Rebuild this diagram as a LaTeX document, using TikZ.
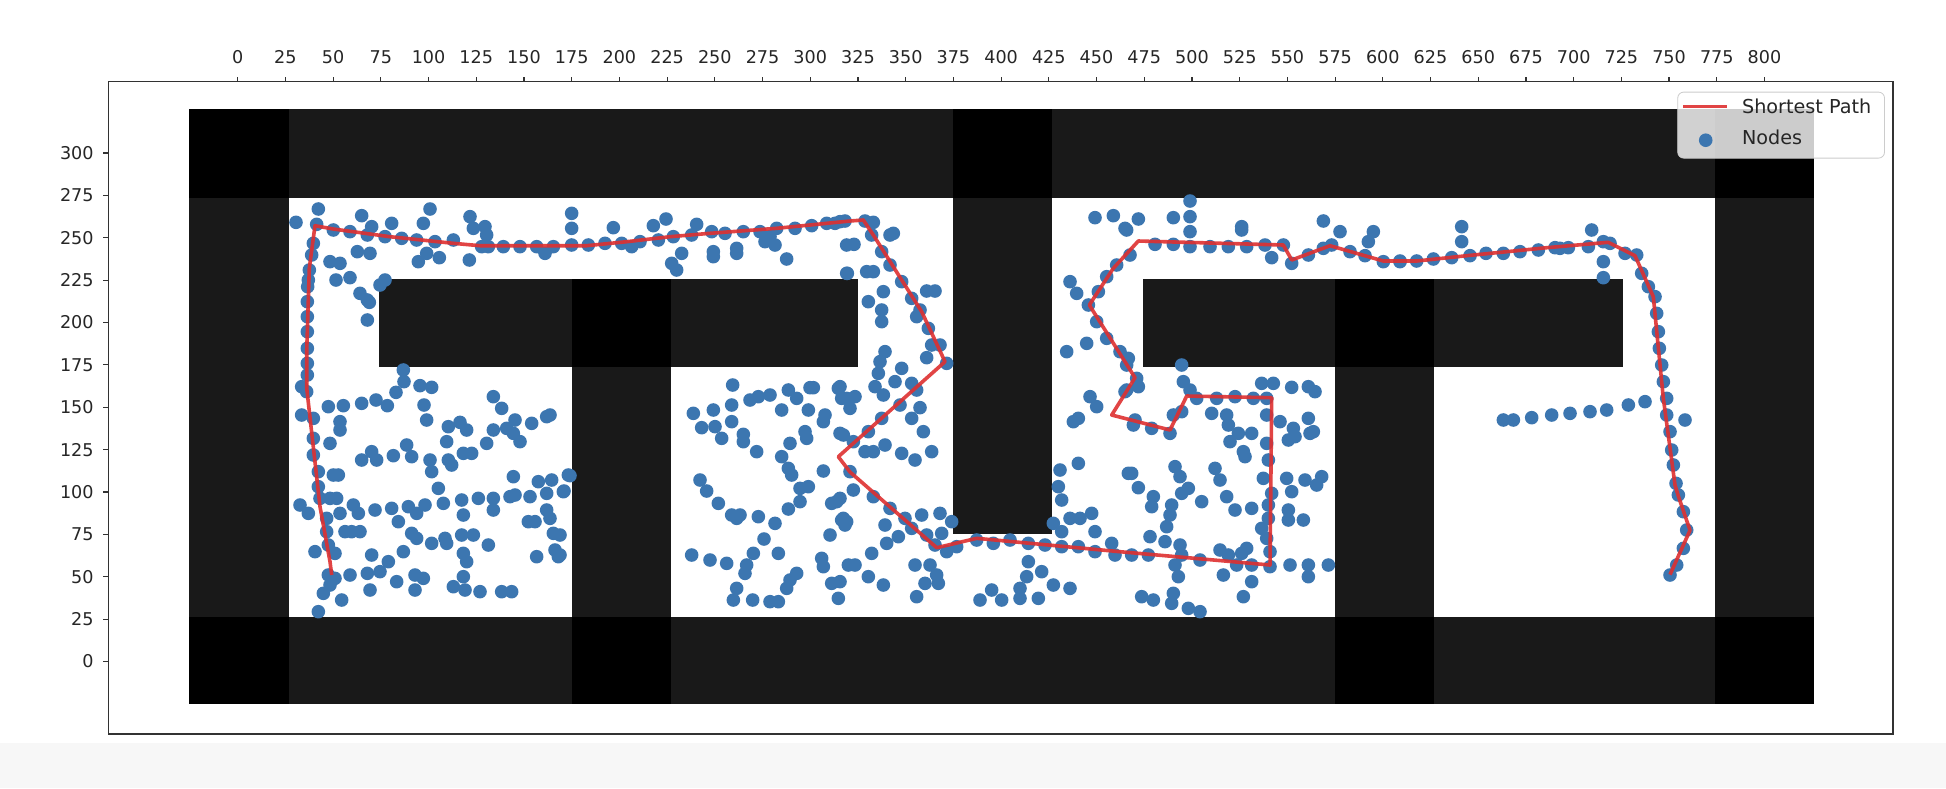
\documentclass[tikz,border=0pt]{standalone}
\usepackage{fontspec}
\setmainfont{DejaVu Sans}
\definecolor{wallg}{RGB}{25,25,25}
\definecolor{nodeb}{RGB}{60,118,176}
\definecolor{pathr}{RGB}{222,48,48}
\definecolor{framec}{RGB}{50,50,50}
\definecolor{labc}{RGB}{38,38,38}
\begin{document}
\begin{tikzpicture}[x=0.5pt,y=-0.5pt,
  wallc/.style={fill=wallg},
  blk/.style={fill=black},
  free/.style={fill=white},
  nd/.style={fill=nodeb},
  ticklab/.style={font=\fontsize{8.8}{10}\selectfont,text=labc,inner sep=0pt},
  leglab/.style={font=\fontsize{9.6}{11}\selectfont,text=labc,inner sep=0pt,anchor=west},
  zoomA/.style={x=0.166667pt,y=-0.166667pt}]
\useasboundingbox (0,0) rectangle (1946,788);
\fill[white] (0,0) rectangle (1946,788);
\fill[black!3] (0,743) rectangle (1946,788);
% ---------- map ----------
\fill[wallc] (189.3,109.3) rectangle (1814.3,704.3);
\fill[free] (288.7,198.3) rectangle (1715,616.7);
\fill[wallc] (379,279.3) rectangle (858.3,366.7);
\fill[wallc] (571.7,366.7) rectangle (670.7,616.7);
\fill[wallc] (953.3,198.3) rectangle (1052.3,534.3);
\fill[wallc] (1142.7,279.3) rectangle (1622.7,366.7);
\fill[wallc] (1335,366.7) rectangle (1434.3,616.7);
\fill[blk] (571.7,279.3) rectangle (670.7,366.7);
\fill[blk] (1335,279.3) rectangle (1434.3,366.7);
\fill[blk] (189.3,109.3) rectangle (288.7,198.3);
\fill[blk] (953.3,109.3) rectangle (1052.3,198.3);
\fill[blk] (1715,109.3) rectangle (1814.3,198.3);
\fill[blk] (189.3,616.7) rectangle (288.7,704.3);
\fill[blk] (571.7,616.7) rectangle (670.7,704.3);
\fill[blk] (1335,616.7) rectangle (1434.3,704.3);
\fill[blk] (1715,616.7) rectangle (1814.3,704.3);
% ---------- nodes ----------
\begin{scope}[shift={(280,185)},zoomA]
\foreach \a/\b in {48/112,115/72,110/118,160/135,210/140,245/92,275/125,262/150,335/115,315/155,365/160,410/165,430/115,450/72,465/170,520/165,570/95,580/130,615/125,620/150,605/185,625/185,670/185,720/185,770/185,795/205,820/185,232/200,270/205,150/230,180/235,168/285,210/278,300/300,315/285,240/325,262/345,268/352,262/405,415/230,440/205,478/218,568/225,
100/175,95/210,88/255,85/285,83/305,82/350,82/395,82/440,82/490,82/535,82/570,65/605,80/620,65/690,100/700,100/760,100/810,115/860,115/905,120/940,140/1000,140/1040,145/1080,165/1105,145/1170,165/1180,150/1200,130/1225,185/1245,115/1280,60/960,85/985,105/1100,
370/555,372/590,348/622,420/602,455/607,432/660,440/705,640/635,665/670,145/665,190/662,245/655,288/645,322/662,180/710,180/735,150/775,505/725,540/712,560/735,500/770,640/735,680/730,705/705,700/745,720/770,755/715,800/695,810/690,620/775,245/825,275/800,290/825,340/812,380/780,395/815,450/825,455/860,475/910,505/825,515/840,550/805,575/805,160/870,175/870,150/940,170/940,180/985,220/960,235/985,285/975,335/970,355/1010,385/965,410/985,435/960,490/955,545/945,550/990,595/940,640/940,640/975,690/935,700/875,705/930,750/935,775/890,815/885,800/925,850/920,865/870,800/975,810/1000,745/1010,765/1010,820/1045,195/1040,215/1040,240/1040,395/1045,410/1060,455/1075,495/1060,500/1075,545/1050,580/1050,625/1080,550/1105,560/1130,770/1115,825/1095,835/1115,275/1110,370/1100,210/1170,262/1165,300/1160,325/1130,350/1190,405/1170,430/1180,405/1215,550/1175,520/1205,555/1215,600/1220,665/1220,695/1220,270/1215}
  \fill[nd] (\a,\b) circle (3.4pt);
\end{scope}
\begin{scope}[shift={(560,185)},zoomA]
\foreach \a/\b in {35/85,35/130,35/180,85/180,135/175,160/128,185/175,215/185,240/170,280/122,318/102,295/165,340/155,365/205,335/235,350/255,395/150,410/118,455/140,460/200,460/215,495/145,530/190,530/205,550/140,600/140,615/170,645/180,650/130,630/155,680/222,705/130,755/122,800/115,825/115,855/108,860/180,860/265,
30/872,12/918,0/1050,0/1110,
518/600,515/660,515/710,400/685,425/728,460/675,465/725,485/760,550/748,550/770,590/800,570/645,595/635,630/630,665/675,685/615,710/640,750/608,760/608,745/675,735/740,740/760,795/690,790/710,835/610,860/640,840/745,665/815,685/850,695/870,690/775,790/858,420/885,440/918,475/955,515/990,530/1000,540/990,595/995,645/1015,720/910,745/905,720/950,685/972,815/955,830/950,845/1005,855/1020,810/1050,612/1062,580/1105,560/1140,555/1165,655/1105,395/1110,450/1125,500/1135,710/1165,690/1185,680/1210,785/1120,790/1145,815/1195,835/1240,530/1210,520/1245,578/1245,630/1250,655/1250,865/1140}
  \fill[nd] (\a,\b) circle (3.4pt);
\end{scope}
\begin{scope}[shift={(840,185)},zoomA]
\foreach \a/\b in {0/110,75/108,100/112,95/150,150/150,160/145,42/178,80/260,100/260,22/265,125/200,150/240,185/290,130/320,85/350,125/375,125/410,215/340,240/375,230/395,260/318,285/318,265/430,275/480,300/480,260/518,320/535,135/500,120/530,115/565,185/550,165/590,215/595,230/615,105/605,130/630,0/605,45/635,30/670,5/640,125/700,180/660,240/668,215/700,250/740,85/740,10/750,40/770,75/800,100/800,135/780,185/805,225/825,275/800,30/860,0/940,40/915,100/935,10/1000,20/1010,135/1020,150/970,175/1055,195/1000,215/1030,245/990,300/985,335/1010,305/1045,260/1050,285/1080,95/1105,45/1140,140/1075,225/1140,270/1140,290/1170,255/1195,295/1195,85/1175,130/1200,0/1190,230/1235,320/1100,350/1085,
410/1065,460/1075,510/1065,565/1075,615/1080,565/1130,605/1160,560/1175,540/1210,455/1215,420/1245,485/1245,540/1240,595/1240,640/1200,690/1210,
765/98,820/92,855/130,690/290,710/325,800/275,830/240,775/320,745/360,770/410,680/500,740/475,800/460,840/500,860/540,750/635,770/665,700/710,715/700,860/615,715/835,660/855,865/865,655/905,665/945,640/1015,665/1040,690/1000,720/1000,755/985,765/1040,665/1085,715/1085,765/1100,815/1075,825/1110}
  \fill[nd] (\a,\b) circle (3.4pt);
\end{scope}
\begin{scope}[shift={(1120,185)},zoomA]
\foreach \a/\b in {30/210,20/135,55/102,160/98,210/48,210/95,210/140,365/125,365/135,610/108,660/140,760/140,745/170,105/178,160/178,210/185,270/185,325/185,380/185,435/180,490/180,455/218,515/235,565/210,610/190,635/180,690/200,735/212,790/230,840/230,
25/520,50/580,55/605,15/620,185/540,190/590,210/615,230/640,160/690,185/680,150/745,45/705,40/720,95/730,290/640,345/635,400/640,425/595,460/595,515/607,565/605,585/620,275/685,320/690,325/720,330/770,355/745,395/745,370/800,375/815,440/640,440/690,480/710,520/730,505/765,525/755,565/700,570/745,580/740,440/775,445/825,430/880,455/925,445/960,445/1000,500/880,515/920,555/885,590/900,605/875,505/975,505/1005,550/1005,35/865,55/908,165/845,180/875,285/850,300/885,100/935,95/965,185/925,205/910,245/950,155/960,150/990,320/935,345/975,395/970,140/1025,135/1070,90/1055,35/1110,85/1110,180/1080,185/1110,165/1140,175/1175,240/1125,300/1095,325/1110,350/1140,380/1090,365/1105,310/1170,395/1140,425/1030,440/1060,450/1100,450/1145,510/1140,565/1140,565/1175,625/1140,395/1190,370/1235,65/1235,100/1245,160/1225,155/1255,205/1270,240/1280}
  \fill[nd] (\a,\b) circle (3.4pt);
\end{scope}
\begin{scope}[shift={(1400,185)},zoomA]
\foreach \a/\b in {0/228,50/228,100/222,155/218,210/212,258/205,310/205,360/200,415/195,465/188,480/190,505/188,565/185,575/135,185/125,185/170,610/170,630/175,675/205,710/210,610/230,610/278,
725/265,745/305,765/335,770/385,775/440,778/490,785/540,790/590,800/640,800/690,810/740,815/795,820/840,828/895,835/930,850/980,860/1035,850/1090,830/1140,810/1170,
310/705,340/705,395/698,455/690,510/685,570/680,620/675,685/660,735/650,855/705}
  \fill[nd] (\a,\b) circle (3.4pt);
\end{scope}
% ---------- shortest path ----------
\draw[pathr,line width=1.8pt,line join=round,opacity=0.9]
 (331.7,575) -- (330,561.7) -- (320,506.7) -- (306.7,388) -- (306.7,351.7) -- (309.3,268.3) -- (315,225.7)
 -- (333.3,229) -- (390,236.7) -- (453.3,243.3) -- (480,245.7) -- (586.7,245.7) -- (626.7,241.7)
 -- (670,236.7) -- (710,233.3) -- (776.7,228.3) -- (850,221) -- (863.3,220) -- (873.3,235)
 -- (921.7,311.7) -- (945,361.7) -- (838.3,456.7) -- (850,472) -- (936.7,547.7) -- (976.7,538.3)
 -- (1120,551.7) -- (1270,565) -- (1271.7,397.7) -- (1186.7,396) -- (1170,430) -- (1111.7,415)
 -- (1135,377.7) -- (1089.3,305) -- (1113.3,268.3) -- (1138.3,241) -- (1283.3,245) -- (1291.7,260)
 -- (1330,245.7) -- (1383.3,261) -- (1416.7,261) -- (1466.7,255.7) -- (1546.7,247.7) -- (1608.3,242.3)
 -- (1635,255.7) -- (1653.3,296.7) -- (1663.3,398.3) -- (1675,485) -- (1678.3,496) -- (1690,530.3) -- (1670,574.6);
% ---------- axes ----------
\draw[framec,line width=0.6pt] (108.3,81.7) rectangle (1893,734);
\foreach \v in {0,25,...,800} {
  \draw[framec,line width=0.6pt] (237.7+1.9085*\v,81.7) -- ++(0,-5);
  \node[ticklab,anchor=base] at (237.7+1.9085*\v,63.3) {\v};
}
\foreach \v in {0,25,...,300} {
  \draw[framec,line width=0.6pt] (108.3,661.5-1.695*\v) -- ++(-5,0);
  \node[ticklab,anchor=east] at (94,661.5-1.695*\v) {\v};
}
% ---------- legend ----------
\node[draw=black!20,fill=white,fill opacity=0.8,rounded corners=3pt,minimum width=103.4pt,minimum height=33pt,inner sep=0pt,anchor=north west] (legend) at (1677.3,91.7) {};
\coordinate (lA) at (1683.3,106.4);
\coordinate (lB) at (1726.7,106.4);
\draw[pathr,line width=1.8pt,opacity=0.9] (lA) -- (lB);
\fill[nd] (1705.7,140.2) circle (3.4pt);
\node[leglab] (lt1) at (1741.7,106.4) {Shortest Path};
\node[leglab] (lt2) at (1741.7,137.6) {Nodes};
\end{tikzpicture}
\end{document}
